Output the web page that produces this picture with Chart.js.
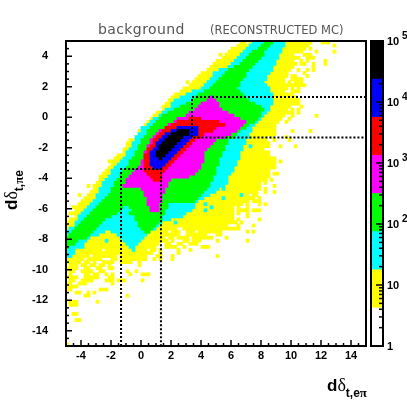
<!DOCTYPE html>
<html>
<head>
<meta charset="utf-8">
<title>background (reconstructed MC)</title>
<script src="https://cdn.jsdelivr.net/npm/chart.js@4"></script>
<style>
    html, body { margin: 0; padding: 0; background: #fff; }
    #wrap { position: relative; width: 407px; height: 407px; overflow: hidden; }
    canvas { position: absolute; top: 0; }
</style>
</head>
<body>
<div id="wrap">
    <canvas id="mapChart" width="407" height="407" style="left:0"></canvas>
    <canvas id="barChart" width="47" height="407" style="left:360px"></canvas>
</div>
<script>
// histogram binning: 100 x 100 bins of 0.2
const binSize = 0.2;
const xLow = -5, xHigh = 15, yLow = -15, yHigh = 5;
const xTickValues = [-4, -2, 0, 2, 4, 6, 8, 10, 12, 14];
const yTickValues = [4, 2, 0, -2, -4, -6, -8, -10, -12, -14];

// palette of the count levels, low to high, and the colour bar edges
const levelColors = ['#ffffff', '#ffff00', '#00ffff', '#00ff00', '#ff00ff', '#ff0000', '#0000ff', '#000000'];
const zEdges = [1, 4.217, 17.78, 74.99, 316.2, 1334, 5623, 23714, 100000];
const zLabels = [[1, '1', ''], [10, '10', ''], [100, '10', '2'], [1000, '10', '3'], [10000, '10', '4'], [100000, '10', '5']];

// dotted cut lines
const cutLower = [{x: -1.33, y: -15}, {x: -1.33, y: -3.4}, {x: 1.33, y: -3.4}, {x: 1.33, y: -15}];
const cutUpper = [{x: 15, y: 1.33}, {x: 3.4, y: 1.33}, {x: 3.4, y: -1.33}, {x: 15, y: -1.33}];

// bins above each level: one entry per row from the top,
// each one a list of first bin, last bin pairs
const yellowRows = [
    [58,59,61,81,85,87],[57,80,89,89],[55,79,81,81],[54,78,83,83,89,89],[51,51,53,75,79,81],
    [52,75,76,77,80,82],[50,75,78,78,80,80,86,86],[49,75,76,76,78,79,82,82,86,86],[48,75,82,82],[47,74,77,77,80,80,82,82],
    [45,73,79,79],[44,73,75,76,80,80],[43,72,75,78],[40,40,42,72,74,74,76,78],[41,74,75,78,79,79],
    [39,73,75,75,77,77],[38,72,75,77],[36,75],[35,75,76,76],[34,77],
    [33,77],[32,74,78,78],[32,73,75,75,77,77],[30,73,74,75,77,77],[29,72,75,75,83,83],
    [28,71,74,74],[27,70,73,73],[26,69],[25,69],[24,69,75,75,81,81],
    [24,69],[23,66,68,68,73,73],[21,66,69,69,74,74],[20,67],[20,67,71,71,76,76],
    [19,65],[19,67],[17,67],[16,69],[14,14,15,69,71,71],
    [15,69],[14,69],[13,67],[12,67,69,70],[11,67],
    [11,65,66,66,68,68],[10,64,66,66],[7,7,9,64,69,69],[9,64,66,66],[8,63,66,66,69,69],
    [4,4,7,60,62,63],[6,60,61,62,64,64],[5,60,62,64],[4,58,60,60,64,64,66,66],[2,55,57,57,60,60],
    [3,55,57,57,58,60,62,64],[1,55,57,57,60,60],[3,55,60,60],[1,55,57,57,64,64],[0,56,58,58],
    [0,53,57,57,62,62],[0,36,39,54,55,57],[0,33,35,37,40,42,44,51,60,60,62,62],[0,37,40,46,50,51],[0,32,34,35,37,40,42,45,46,48,53,53],
    [0,33,35,35,39,40,42,44,50,50,60,60],[0,30,33,34,37,38,41,43],[0,29,33,36,39,39,45,47],[0,11,13,26,28,29,31,31,37,37,41,41],[0,25,26,28,31,31,37,37],
    [0,7,9,10,11,13,14,16,18,25,26,26,30,31,35,35,50,50],[0,5,7,11,15,16,18,25,26,26,29,29,31,31,35,35],[0,4,6,7,9,9,12,15,18,21,24,24],[1,3,5,6,8,9,11,12,14,14,24,24],[0,3,6,7,10,11,14,15],
    [1,2,5,8,11,12,20,20,23,23],[1,1,6,7,9,10,13,13,15,15,21,21,25,27],[0,3,6,10,14,15],[1,2,5,8,13,15,17,19,25,25],[0,1,4,6,15,15],
    [0,3],[0,1,11,13],[3,4,7,7,9,9],[6,7,20,20],[],
    [1,3,10,10],[1,3],[],[],[2,3],
    [],[3,4],[],[],[],
    [],[],[],[],[0,0]
];
const cyanRows = [
    [62,72],[61,72],[60,71],[59,71],[58,70],[57,70],[56,69],[55,69],[54,68],[51,68],
    [49,67],[49,66],[48,66],[47,65],[46,66],[45,67],[42,67],[40,68],[38,68],[36,68],
    [35,68],[35,67],[33,67],[32,66],[31,65],[29,64],[28,63],[27,62],[25,61],[25,61],
    [24,60],[23,60],[23,59],[22,59],[22,58,61,61],[21,58],[20,57],[20,57],[19,57],[18,56],
    [17,56],[16,55],[15,55],[15,54],[14,53],[13,53],[12,53],[12,52],[11,50,52,52],[11,49],
    [10,47,58,58],[10,45,52,52],[9,43],[8,42,46,46],[7,42,48,48],[6,41,46,46],[5,39],[4,38],[4,34],[3,31,36,36],
    [3,30],[1,29],[0,11,12,12,15,27],[0,10,17,26],[0,7,18,25],[0,6,13,13,19,24],[0,5,20,23],[0,5,21,22],[0,2,22,22],[0,2],
    [0,1]
];
const greenRows = [
    [66,68],[65,67],[64,66],[62,65],[61,65],[60,64],[59,63],[58,62],[56,61],[54,60],
    [53,59],[52,59],[51,58],[50,57],[49,57],[48,56],[46,57],[44,58],[43,59],[42,60],
    [40,62],[38,64],[36,65],[34,64],[32,64],[31,63],[30,62],[29,60],[28,59],[27,57],
    [27,56],[26,55],[25,53],[25,53],[24,52],[24,52],[23,51],[23,51],[22,50],[21,50],
    [21,50],[20,49],[19,49],[18,49],[18,48],[17,48],[16,47],[16,47],[15,46],[15,45],
    [14,44],[13,43],[12,42],[11,33],[10,18,21,33],[9,17,22,32],[8,16,21,21,22,32],[7,14,23,31],[6,12,23,31],[5,11,24,30],
    [4,10,24,29],[3,9,25,28],[2,8,26,27],[1,7],[0,6],[0,3],[0,2],[0,0]
];
const magentaFirstRow = 18;
const magentaRows = [
    [48,48],[47,49],[45,50],[44,50],[43,51],[41,53],[40,55],[37,57],[36,59],[34,58],
    [33,57],[31,56],[30,54],[29,52],[28,49],[28,48],[27,47],[27,46],[26,45],[26,45],
    [26,45],[25,45],[25,44],[24,44],[23,43],[22,42],[21,40],[20,34],[20,33],[19,33],
    [25,32],[26,32],[26,31],[27,31],[27,31],[27,30],[28,30],[28,30]
];
const redFirstRow = 25;
const redRows = [
    [41,44],[37,50],[35,52],[33,49],[32,48],[31,45],[30,44],[29,42],[29,41],[28,40],[27,39],
    [27,38],[26,37],[26,36],[26,35],[26,34],[26,33],[26,32],[27,31],[28,31],[29,31]
];
const blueFirstRow = 28;
const blueRows = [
    [37,43],[35,43],[33,43],[32,41],[31,40],[30,39],[30,38],[29,37],[28,36],[28,35],[28,34],[28,33],[28,32],[29,31]
];
const blackFirstRow = 29;
const blackRows = [
    [37,40],[35,40],[34,38],[33,37],[32,36],[31,35],[31,34],[30,33],[30,32],[31,31]
];

function rowsToBars(rows, firstRow) {
    const bars = [];
    rows.forEach((spans, i) => {
        const y = yHigh - binSize * (firstRow + i + 0.5);
        for (let k = 0; k < spans.length; k += 2) {
            bars.push({y: y, x: [xLow + binSize * spans[k], xLow + binSize * (spans[k + 1] + 1)]});
        }
    });
    return bars;
}

function levelDataset(rows, firstRow, color) {
    return {
        data: rowsToBars(rows, firstRow),
        backgroundColor: color,
        barThickness: 3.1,
        grouped: false
    };
}

function cutDataset(points) {
    return {
        type: 'scatter',
        data: points,
        showLine: true,
        borderColor: '#000',
        borderWidth: 2,
        borderDash: [2, 2],
        pointRadius: 0,
        order: -1
    };
}

// writes a row of text pieces with their own font and baseline shift
function drawParts(ctx, parts, x, y) {
    ctx.textAlign = 'left';
    ctx.textBaseline = 'alphabetic';
    parts.forEach(p => {
        ctx.font = p.font;
        ctx.fillText(p.text, x, y + (p.dy || 0));
        x += ctx.measureText(p.text).width;
    });
}

const dFont = 'bold 17px "Liberation Sans"';
const deltaFont = '18px "Liberation Serif"';
const subFont = 'bold 12px "Liberation Sans"';
const piFont = 'bold 13px "Liberation Serif"';

// frame, inward ticks and the texts ROOT puts by hand
const mapDecor = {
    id: 'mapDecor',
    afterDraw(chart) {
        const ctx = chart.ctx;
        const area = chart.chartArea;
        const sx = chart.scales.x;
        const sy = chart.scales.y;
        ctx.save();
        ctx.strokeStyle = '#000';
        ctx.fillStyle = '#000';
        ctx.lineWidth = 1.5;
        for (let v = xLow + 0.5; v < xHigh; v += 0.5) {
            const px = sx.getPixelForValue(v);
            const len = v % 2 === 0 ? 6 : 3;
            ctx.beginPath();
            ctx.moveTo(px, area.bottom);
            ctx.lineTo(px, area.bottom - len);
            ctx.stroke();
        }
        for (let v = yLow + 0.5; v < yHigh; v += 0.5) {
            const py = sy.getPixelForValue(v);
            const len = v % 2 === 0 ? 6 : 3;
            ctx.beginPath();
            ctx.moveTo(area.left, py);
            ctx.lineTo(area.left + len, py);
            ctx.stroke();
        }
        ctx.lineWidth = 2;
        ctx.strokeRect(area.left, area.top, area.right - area.left, area.bottom - area.top);

        ctx.fillStyle = '#555';
        ctx.textAlign = 'left';
        ctx.textBaseline = 'alphabetic';
        ctx.font = '14px "DejaVu Sans"';
        ctx.letterSpacing = '0.4px';
        ctx.fillText('background', 98, 34);
        ctx.font = '11.5px "DejaVu Sans"';
        ctx.letterSpacing = '0px';
        ctx.fillText('(RECONSTRUCTED MC)', 210, 34);

        ctx.fillStyle = '#000';
        drawParts(ctx, [
            {text: 'd', font: dFont},
            {text: 'δ', font: deltaFont},
            {text: 't,e', font: subFont, dy: 6},
            {text: 'π', font: piFont, dy: 6}
        ], 327, 391);
        ctx.translate(17, 210);
        ctx.rotate(-Math.PI / 2);
        drawParts(ctx, [
            {text: 'd', font: dFont},
            {text: 'δ', font: deltaFont},
            {text: 't,', font: subFont, dy: 6},
            {text: 'π', font: piFont, dy: 6},
            {text: 'e', font: subFont, dy: 6}
        ], 0, 0);
        ctx.restore();
    }
};

new Chart(document.getElementById('mapChart'), {
    type: 'bar',
    data: {
        // first dataset ends up on top
        datasets: [
            cutDataset(cutLower),
            cutDataset(cutUpper),
            levelDataset(blackRows, blackFirstRow, levelColors[7]),
            levelDataset(blueRows, blueFirstRow, levelColors[6]),
            levelDataset(redRows, redFirstRow, levelColors[5]),
            levelDataset(magentaRows, magentaFirstRow, levelColors[4]),
            levelDataset(greenRows, 0, levelColors[3]),
            levelDataset(cyanRows, 0, levelColors[2]),
            levelDataset(yellowRows, 0, levelColors[1])
        ]
    },
    options: {
        indexAxis: 'y',
        responsive: false,
        animation: false,
        layout: { padding: { top: 41, right: 41, left: 0, bottom: 0 } },
        plugins: { legend: { display: false }, tooltip: { enabled: false } },
        scales: {
            x: {
                type: 'linear',
                min: xLow,
                max: xHigh,
                grid: { display: false, drawTicks: false, tickLength: 0 },
                border: { display: false },
                afterFit: s => { s.height = 61; },
                afterBuildTicks: s => { s.ticks = xTickValues.map(v => ({value: v})); },
                ticks: {
                    autoSkip: false,
                    maxRotation: 0,
                    padding: 3,
                    color: '#000',
                    font: { family: '"Liberation Sans"', size: 11, weight: 'bold' }
                }
            },
            y: {
                type: 'linear',
                min: yLow,
                max: yHigh,
                offset: false,
                grid: { display: false, drawTicks: false, tickLength: 0 },
                border: { display: false },
                afterFit: s => { s.width = 66; },
                afterBuildTicks: s => { s.ticks = yTickValues.map(v => ({value: v})); },
                ticks: {
                    autoSkip: false,
                    padding: 18,
                    color: '#000',
                    font: { family: '"Liberation Sans"', size: 11, weight: 'bold' }
                }
            }
        }
    },
    plugins: [mapDecor]
});

// colour bar ticks and labels
const barDecor = {
    id: 'barDecor',
    afterDraw(chart) {
        const ctx = chart.ctx;
        const area = chart.chartArea;
        const sy = chart.scales.y;
        ctx.save();
        ctx.strokeStyle = '#000';
        ctx.fillStyle = '#000';
        ctx.lineWidth = 1.5;
        for (let decade = 1; decade < 100000; decade *= 10) {
            for (let m = 1; m < 10; m++) {
                const py = sy.getPixelForValue(decade * m);
                const len = m === 1 ? 7 : 4;
                ctx.beginPath();
                ctx.moveTo(area.right, py);
                ctx.lineTo(area.right - len, py);
                ctx.stroke();
            }
        }
        ctx.lineWidth = 2;
        ctx.strokeRect(area.left, area.top, area.right - area.left, area.bottom - area.top);
        zLabels.forEach(l => {
            const py = sy.getPixelForValue(l[0]);
            drawParts(ctx, [{text: l[1], font: 'bold 11px "Liberation Sans"'}], 27, py + 4);
            if (l[2]) {
                drawParts(ctx, [{text: l[2], font: 'bold 10px "Liberation Sans"'}], 42, py - 2);
            }
        });
        ctx.restore();
    }
};

new Chart(document.getElementById('barChart'), {
    type: 'bar',
    data: {
        labels: ['z'],
        datasets: levelColors.map((color, i) => ({
            data: [[zEdges[i], zEdges[i + 1]]],
            backgroundColor: color,
            barPercentage: 1,
            categoryPercentage: 1,
            grouped: false
        }))
    },
    options: {
        responsive: false,
        animation: false,
        layout: { padding: { top: 41, right: 24, left: 11, bottom: 61 } },
        plugins: { legend: { display: false }, tooltip: { enabled: false } },
        scales: {
            x: { display: false },
            y: { type: 'logarithmic', min: 1, max: 100000, display: false }
        }
    },
    plugins: [barDecor]
});
</script>
</body>
</html>
